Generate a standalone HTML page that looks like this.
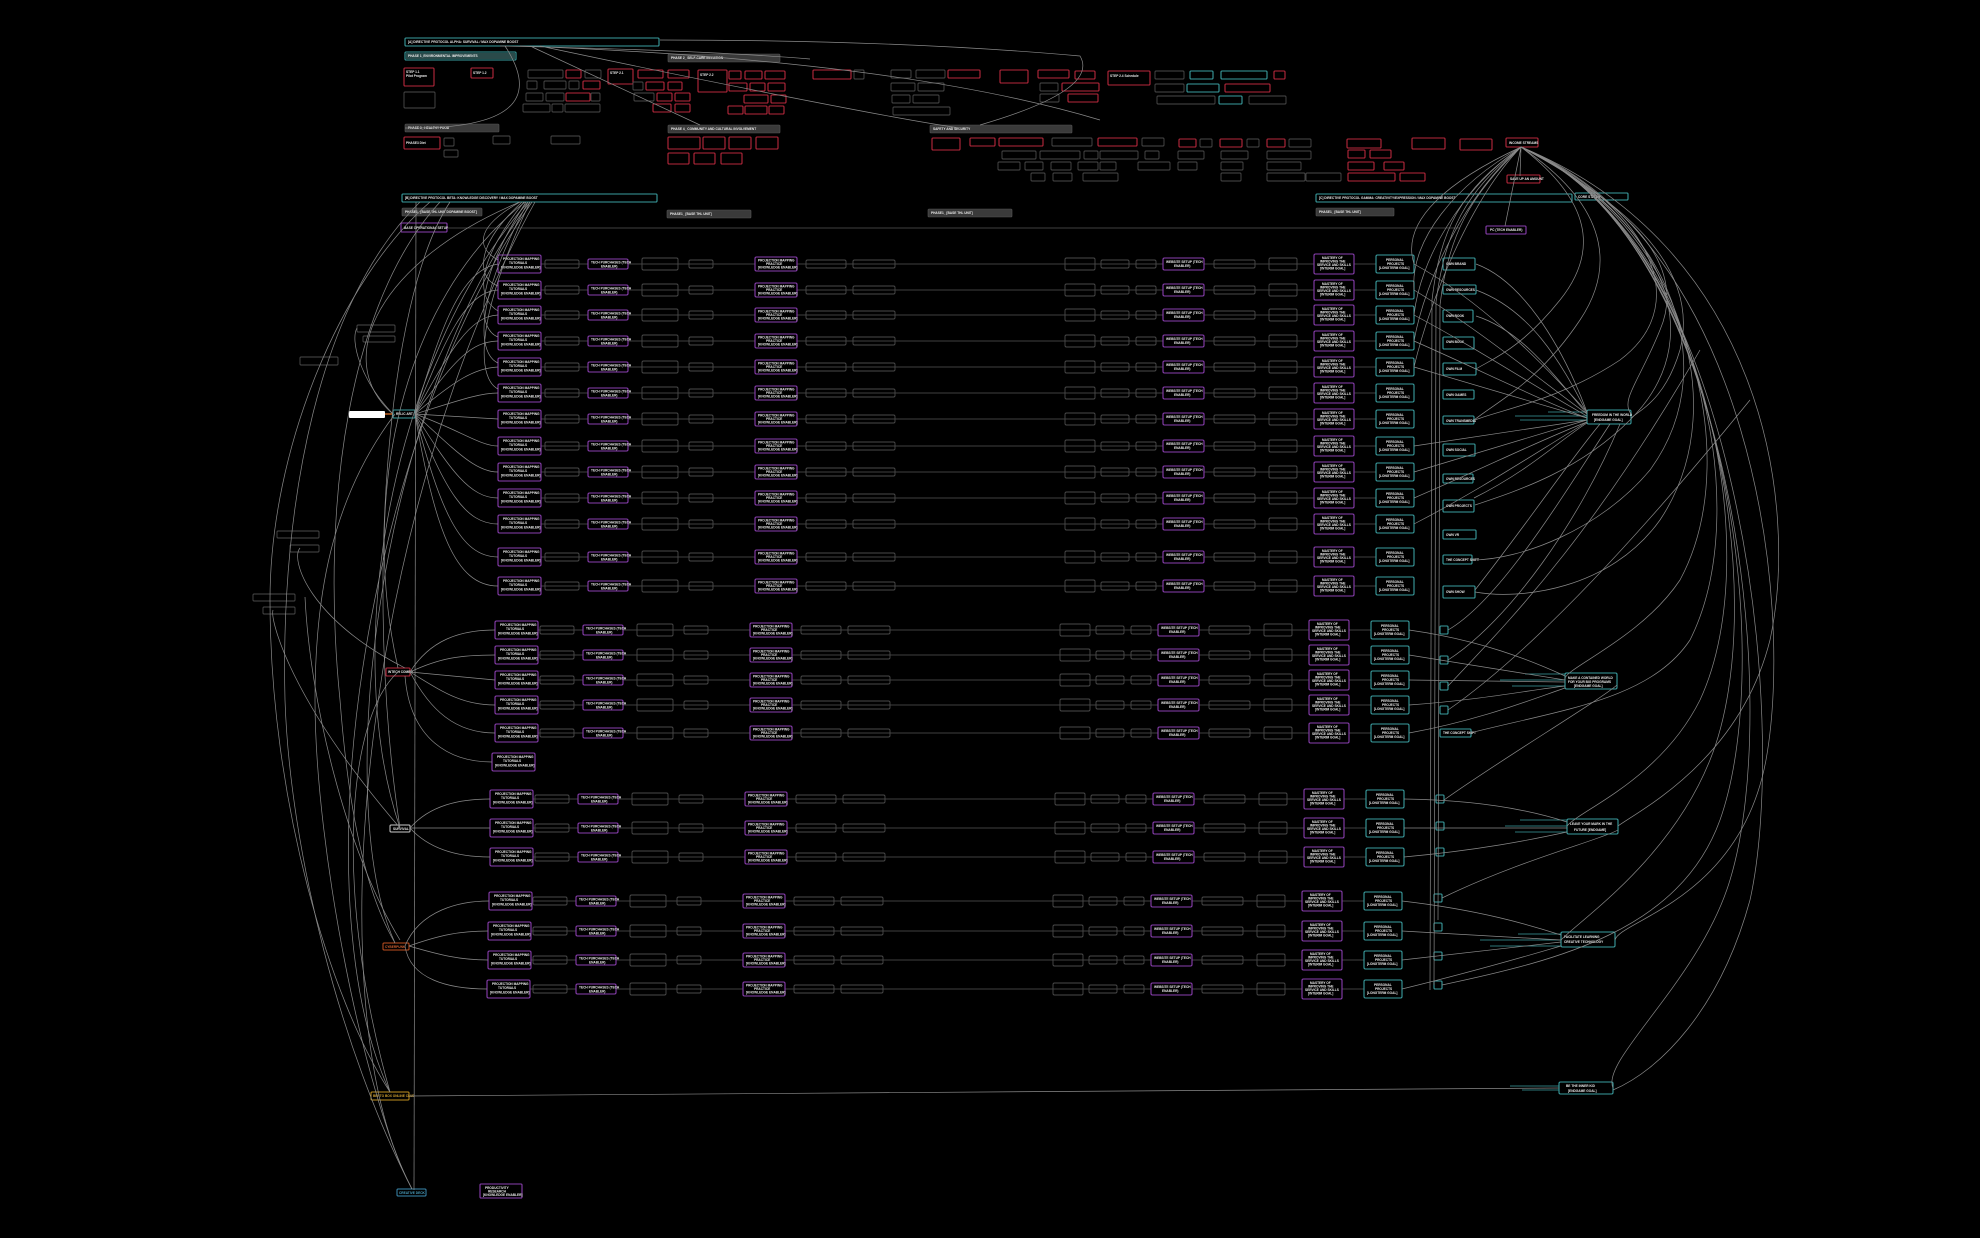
<!DOCTYPE html>
<html><head><meta charset="utf-8"><style>
html,body{margin:0;padding:0;background:#000;}
svg{display:block;}
text{font-family:"Liberation Sans",sans-serif;font-size:3.2px;font-weight:bold;fill:#e8e8e8;}
.g{fill:none;stroke:#4a4a4a;stroke-width:0.9;}
.p{fill:#000;stroke:#8a3fb0;stroke-width:1.1;}
.t{fill:#000;stroke:#3a9ea0;stroke-width:1.1;}
.r{fill:#000;stroke:#b8283c;stroke-width:1.1;}
.h{fill:#3a3a3a;stroke:#555;stroke-width:0.6;}
.l{fill:none;stroke:#8a8a8a;stroke-width:0.7;}
.ld{fill:none;stroke:#555;stroke-width:0.8;}
</style></head><body>
<svg width="1980" height="1238" viewBox="0 0 1980 1238" xmlns="http://www.w3.org/2000/svg">
<rect width="1980" height="1238" fill="#000"/>
<defs>
<g id="row">
<line x1="540" y1="0" x2="1376" y2="0" class="ld"/>
<rect x="545" y="-4" width="34" height="8" rx="1.5" class="g"/>
<rect x="588" y="-5" width="40" height="10" rx="1.5" class="p"/><text x="591" y="-0.5">TECH PURCHASES (TECH</text><text x="601" y="3.5">ENABLER)</text>
<rect x="642" y="-6" width="36" height="12" rx="1.5" class="g"/>
<rect x="689" y="-4" width="24" height="8" rx="1.5" class="g"/>
<rect x="755" y="-7" width="42" height="14" rx="1.5" class="p"/><text x="758" y="-2.5">PROJECTION MAPPING</text><text x="766" y="1">PRACTICE</text><text x="758" y="4.5">[KNOWLEDGE ENABLER]</text>
<rect x="806" y="-4" width="40" height="8" rx="1.5" class="g"/>
<rect x="853" y="-4" width="42" height="8" rx="1.5" class="g"/>
<rect x="1065" y="-6" width="30" height="12" rx="1.5" class="g"/>
<rect x="1101" y="-4" width="28" height="8" rx="1.5" class="g"/>
<rect x="1136" y="-4" width="20" height="8" rx="1.5" class="g"/>
<rect x="1163" y="-6" width="41" height="12" rx="1.5" class="p"/><text x="1166" y="-1">WEBSITE SETUP (TECH</text><text x="1174" y="3">ENABLER)</text>
<rect x="1214" y="-4" width="41" height="8" rx="1.5" class="g"/>
<rect x="1269" y="-6" width="28" height="12" rx="1.5" class="g"/>
<rect x="1314" y="-10" width="40" height="20" rx="1.5" class="p"/><text x="1322" y="-5">MASTERY OF</text><text x="1320" y="-1.5">IMPROVING THE</text><text x="1317" y="2">SERVICE AND SKILLS</text><text x="1320" y="5.5">[INTERIM GOAL]</text>
<rect x="1376" y="-9" width="38" height="18" rx="1.5" class="t"/><text x="1386" y="-3">PERSONAL</text><text x="1387" y="1">PROJECTS</text><text x="1379" y="5">[LONGTERM GOAL]</text>
</g>
<g id="c1"><rect x="0" y="-9" width="43" height="18" rx="1.5" class="p"/><text x="5" y="-4">PROJECTION MAPPING</text><text x="11" y="0">TUTORIALS</text><text x="3" y="4.5">[KNOWLEDGE ENABLER]</text></g>
</defs>

<!-- TOP HEADERS -->
<rect x="405" y="38" width="254" height="8" rx="1" class="t"/><text x="408" y="43">[A] DIRECTIVE PROTOCOL ALPHA: SURVIVAL / MAX DOPAMINE BOOST</text>
<rect x="405" y="52" width="111" height="8" rx="1" class="t"/><rect x="406" y="53" width="109" height="6" fill="#2a4a4a"/><text x="408" y="57">PHASE 1_ENVIRONMENTAL IMPROVEMENTS</text>
<rect x="668" y="54" width="112" height="8" rx="1" class="h"/><text x="671" y="59">PHASE 2_ SELF-CARE INITIATION</text>
<rect x="405" y="124" width="94" height="8" rx="1" class="h"/><text x="408" y="129">PHASE 3_ HEALTHY FOOD</text>
<rect x="668" y="125" width="112" height="8" rx="1" class="h"/><text x="671" y="130">PHASE 4_ COMMUNITY AND CULTURAL INVOLVEMENT</text>
<rect x="930" y="125" width="142" height="8" rx="1" class="h"/><text x="933" y="130">SAFETY AND SECURITY</text>
<rect x="402" y="194" width="255" height="8" rx="1" class="t"/><text x="405" y="199">[B] DIRECTIVE PROTOCOL BETA: KNOWLEDGE DISCOVERY / MAX DOPAMINE BOOST</text>
<rect x="402" y="208" width="80" height="8" rx="1" class="h"/><text x="405" y="213">PHASE1_ [BASE THL UNIT DOPAMINE BOOST]</text>
<rect x="667" y="210" width="84" height="8" rx="1" class="h"/><text x="670" y="215">PHASE1_ [BASE THL UNIT]</text>
<rect x="928" y="209" width="84" height="8" rx="1" class="h"/><text x="931" y="214">PHASE1_ [BASE THL UNIT]</text>
<rect x="1316" y="194" width="256" height="8" rx="1" class="t"/><text x="1319" y="199">[C] DIRECTIVE PROTOCOL GAMMA: CREATIVITY/EXPRESSION / MAX DOPAMINE BOOST</text>
<rect x="1316" y="208" width="78" height="8" rx="1" class="h"/><text x="1319" y="213">PHASE1_ [BASE THL UNIT]</text>
<rect x="1575" y="193" width="53" height="7" rx="1" class="t"/><text x="1578" y="198">CORE STATES</text>
<rect x="401" y="223" width="46" height="9" rx="1" class="p"/><text x="404" y="229">BASE OPERATIONAL SETUP</text>
<line x1="447" y1="228" x2="1460" y2="228" class="ld"/>

<!-- TOP SECTION BOXES -->
<g>
<rect x="404" y="68" width="30" height="18" rx="1" class="r"/><text x="406" y="73">STEP 1.1</text><text x="406" y="77">Pilot Program</text>
<rect x="404" y="92" width="31" height="16" rx="1" class="g"/>
<rect x="471" y="68" width="22" height="10" rx="1" class="r"/><text x="473" y="74">STEP 1.2</text>
<rect x="404" y="137" width="36" height="12" rx="1" class="r"/><text x="406" y="144">PHASE3 Diet</text>
<rect x="444" y="138" width="10" height="8" rx="1" class="g"/><rect x="444" y="150" width="14" height="7" rx="1" class="g"/>
<rect x="493" y="136" width="17" height="8" rx="1" class="g"/><rect x="551" y="136" width="29" height="8" rx="1" class="g"/>
<rect x="528" y="70" width="35" height="8" rx="1" class="g"/><rect x="566" y="70" width="15" height="8" rx="1" class="r"/><rect x="585" y="70" width="16" height="8" rx="1" class="g"/>
<rect x="527" y="81" width="10" height="8" rx="1" class="g"/><rect x="544" y="81" width="22" height="8" rx="1" class="g"/><rect x="569" y="81" width="10" height="8" rx="1" class="g"/><rect x="583" y="81" width="17" height="8" rx="1" class="r"/>
<rect x="526" y="93" width="17" height="8" rx="1" class="g"/><rect x="546" y="93" width="18" height="8" rx="1" class="g"/><rect x="566" y="93" width="24" height="8" rx="1" class="r"/><rect x="591" y="93" width="9" height="8" rx="1" class="g"/>
<rect x="523" y="104" width="27" height="8" rx="1" class="g"/><rect x="552" y="104" width="11" height="8" rx="1" class="g"/><rect x="565" y="104" width="35" height="8" rx="1" class="g"/>
<rect x="608" y="69" width="25" height="15" rx="1" class="r"/><text x="610" y="74">STEP 2.1</text>
<rect x="638" y="70" width="25" height="8" rx="1" class="r"/><rect x="668" y="70" width="21" height="8" rx="1" class="r"/>
<rect x="633" y="82" width="10" height="8" rx="1" class="g"/><rect x="646" y="82" width="18" height="8" rx="1" class="r"/><rect x="668" y="82" width="14" height="8" rx="1" class="r"/>
<rect x="634" y="93" width="20" height="8" rx="1" class="g"/><rect x="657" y="93" width="15" height="8" rx="1" class="r"/><rect x="675" y="93" width="15" height="8" rx="1" class="r"/>
<rect x="653" y="104" width="18" height="8" rx="1" class="r"/><rect x="675" y="104" width="15" height="8" rx="1" class="r"/>
<rect x="698" y="70" width="29" height="22" rx="1" class="r"/><text x="700" y="76">STEP 2.2</text>
<rect x="729" y="71" width="12" height="8" rx="1" class="r"/><rect x="745" y="71" width="17" height="8" rx="1" class="r"/><rect x="765" y="71" width="20" height="8" rx="1" class="r"/>
<rect x="729" y="83" width="18" height="8" rx="1" class="r"/><rect x="750" y="83" width="15" height="8" rx="1" class="r"/><rect x="768" y="83" width="17" height="8" rx="1" class="r"/>
<rect x="744" y="95" width="24" height="8" rx="1" class="r"/><rect x="771" y="95" width="15" height="8" rx="1" class="r"/>
<rect x="728" y="106" width="15" height="8" rx="1" class="r"/><rect x="745" y="106" width="22" height="8" rx="1" class="r"/><rect x="769" y="106" width="15" height="8" rx="1" class="r"/>
<rect x="813" y="70" width="38" height="9" rx="1" class="r"/><rect x="854" y="70" width="10" height="9" rx="1" class="g"/>
<rect x="891" y="70" width="20" height="8" rx="1" class="g"/><rect x="916" y="70" width="29" height="8" rx="1" class="g"/>
<rect x="891" y="83" width="24" height="8" rx="1" class="g"/><rect x="918" y="83" width="26" height="8" rx="1" class="g"/>
<rect x="892" y="95" width="18" height="8" rx="1" class="g"/><rect x="913" y="95" width="26" height="8" rx="1" class="g"/>
<rect x="893" y="107" width="57" height="8" rx="1" class="g"/>
<rect x="948" y="70" width="32" height="8" rx="1" class="r"/><rect x="1000" y="70" width="28" height="13" rx="1" class="r"/>
<rect x="1038" y="70" width="31" height="8" rx="1" class="r"/><rect x="1075" y="71" width="20" height="8" rx="1" class="r"/>
<rect x="1040" y="83" width="18" height="8" rx="1" class="g"/><rect x="1062" y="83" width="37" height="8" rx="1" class="r"/>
<rect x="1040" y="94" width="19" height="8" rx="1" class="g"/><rect x="1068" y="94" width="30" height="8" rx="1" class="r"/>
<rect x="1108" y="71" width="42" height="14" rx="1" class="r"/><text x="1110" y="77">STEP 2.4 Schedule</text>
<rect x="1155" y="71" width="29" height="8" rx="1" class="g"/><rect x="1190" y="71" width="23" height="8" rx="1" class="t"/><rect x="1221" y="71" width="46" height="8" rx="1" class="t"/><rect x="1274" y="71" width="11" height="8" rx="1" class="r"/>
<rect x="1155" y="84" width="29" height="8" rx="1" class="g"/><rect x="1187" y="84" width="32" height="8" rx="1" class="t"/><rect x="1225" y="84" width="45" height="8" rx="1" class="r"/>
<rect x="1157" y="96" width="58" height="8" rx="1" class="g"/><rect x="1219" y="96" width="23" height="8" rx="1" class="t"/><rect x="1249" y="96" width="37" height="8" rx="1" class="g"/>
<rect x="668" y="137" width="32" height="12" rx="1" class="r"/><rect x="703" y="137" width="22" height="12" rx="1" class="r"/><rect x="729" y="137" width="22" height="12" rx="1" class="r"/><rect x="756" y="137" width="22" height="12" rx="1" class="r"/>
<rect x="668" y="153" width="21" height="11" rx="1" class="r"/><rect x="694" y="153" width="21" height="11" rx="1" class="r"/><rect x="721" y="153" width="21" height="11" rx="1" class="r"/>
<rect x="932" y="138" width="28" height="12" rx="1" class="r"/><rect x="970" y="138" width="25" height="8" rx="1" class="r"/><rect x="999" y="138" width="44" height="8" rx="1" class="r"/>
<rect x="1052" y="138" width="40" height="8" rx="1" class="g"/><rect x="1098" y="138" width="39" height="8" rx="1" class="r"/><rect x="1142" y="138" width="22" height="8" rx="1" class="g"/>
<rect x="1179" y="139" width="17" height="8" rx="1" class="r"/><rect x="1200" y="139" width="12" height="8" rx="1" class="g"/><rect x="1220" y="139" width="22" height="8" rx="1" class="r"/><rect x="1247" y="139" width="12" height="8" rx="1" class="g"/><rect x="1267" y="139" width="18" height="8" rx="1" class="r"/><rect x="1289" y="139" width="22" height="8" rx="1" class="g"/>
<rect x="1347" y="139" width="34" height="9" rx="1" class="r"/><rect x="1412" y="138" width="33" height="11" rx="1" class="r"/><rect x="1460" y="139" width="32" height="11" rx="1" class="r"/>
<rect x="1506" y="138" width="32" height="9" rx="1" class="r"/><text x="1509" y="144">INCOME STREAMS</text>
<rect x="1507" y="175" width="33" height="8" rx="1" class="r"/><text x="1510" y="180">SAVE UP AN AMOUNT</text>
<rect x="1486" y="226" width="40" height="8" rx="1" class="p"/><text x="1490" y="231">PC (TECH ENABLER)</text>
<rect x="1002" y="151" width="34" height="8" rx="1" class="g"/><rect x="1040" y="151" width="40" height="8" rx="1" class="g"/><rect x="1084" y="151" width="14" height="8" rx="1" class="g"/><rect x="1100" y="151" width="38" height="8" rx="1" class="g"/><rect x="1145" y="151" width="14" height="8" rx="1" class="g"/><rect x="1178" y="151" width="26" height="8" rx="1" class="g"/><rect x="1221" y="151" width="27" height="8" rx="1" class="g"/><rect x="1267" y="151" width="44" height="8" rx="1" class="g"/>
<rect x="1348" y="150" width="17" height="8" rx="1" class="r"/><rect x="1370" y="150" width="21" height="8" rx="1" class="r"/>
<rect x="998" y="162" width="22" height="8" rx="1" class="g"/><rect x="1025" y="162" width="18" height="8" rx="1" class="g"/><rect x="1051" y="162" width="20" height="8" rx="1" class="g"/><rect x="1078" y="162" width="20" height="8" rx="1" class="g"/><rect x="1100" y="162" width="16" height="8" rx="1" class="g"/><rect x="1138" y="162" width="32" height="8" rx="1" class="g"/><rect x="1178" y="162" width="19" height="8" rx="1" class="g"/><rect x="1221" y="162" width="22" height="8" rx="1" class="g"/><rect x="1267" y="162" width="34" height="8" rx="1" class="g"/>
<rect x="1348" y="162" width="26" height="8" rx="1" class="r"/><rect x="1384" y="162" width="20" height="8" rx="1" class="r"/>
<rect x="1031" y="173" width="14" height="8" rx="1" class="g"/><rect x="1053" y="173" width="19" height="8" rx="1" class="g"/><rect x="1083" y="173" width="35" height="8" rx="1" class="g"/><rect x="1221" y="173" width="20" height="8" rx="1" class="g"/><rect x="1267" y="173" width="38" height="8" rx="1" class="g"/><rect x="1306" y="173" width="35" height="8" rx="1" class="g"/>
<rect x="1348" y="173" width="47" height="8" rx="1" class="r"/><rect x="1400" y="173" width="25" height="8" rx="1" class="r"/>
</g>

<!-- TOP CURVES -->
<path class="l" d="M500,46 Q700,50 810,59 M520,46 Q900,60 1100,120 M660,40 Q900,40 1080,56 Q1100,90 980,125 M530,46 Q560,60 700,125 M505,46 Q560,130 405,128 M540,46 C700,80 900,120 960,128"/>
<path class="l" d="M1521,147 L1520,176 M1521,147 L1505,226"/>

<!-- LEFT NODES -->
<rect x="349" y="411" width="36" height="7" rx="1" fill="#fff"/><line x1="385" y1="414" x2="393" y2="414" stroke="#c06020" stroke-width="1.5"/>
<rect x="393" y="410" width="22" height="8" rx="1" class="t"/><text x="396" y="415">RELIC ART</text>
<rect x="386" y="668" width="24" height="8" rx="1" class="r"/><text x="388" y="673">INTECH COMBO</text>
<rect x="390" y="825" width="20" height="7" rx="1" fill="#000" stroke="#ccc" stroke-width="1"/><text x="393" y="830">SURVIVAL</text>
<rect x="383" y="943" width="26" height="7" rx="1" fill="#000" stroke="#c05020" stroke-width="1"/><text x="385" y="948" style="fill:#d06030">CYBERPUNK</text>
<rect x="371" y="1092" width="38" height="8" rx="1" fill="#000" stroke="#c09020" stroke-width="1"/><text x="373" y="1097" style="fill:#d0a030">BENTO BOX ONLINE CLUB</text>
<rect x="397" y="1189" width="29" height="7" rx="1" fill="#000" stroke="#3a8ab0" stroke-width="1"/><text x="399" y="1194" style="fill:#4aa0c0">CREATIVE DECK</text>
<rect x="480" y="1184" width="42" height="14" rx="1" class="p"/><text x="485" y="1189">PRODUCTIVITY</text><text x="488" y="1192.5">RESEARCH</text><text x="483" y="1196">[KNOWLEDGE ENABLER]</text>
<line x1="416" y1="202" x2="414" y2="1190" class="l"/>
<line x1="409" y1="1096" x2="1560" y2="1088" class="l"/>
<rect x="357" y="325" width="38" height="7" rx="1" class="g"/><rect x="363" y="336" width="32" height="6" rx="1" class="g"/>
<rect x="300" y="357" width="38" height="8" rx="1" class="g"/>
<rect x="277" y="531" width="42" height="7" rx="1" class="g"/><rect x="290" y="545" width="29" height="7" rx="1" class="g"/>
<rect x="253" y="594" width="42" height="7" rx="1" class="g"/><rect x="263" y="607" width="32" height="7" rx="1" class="g"/>

<!-- ROWS GROUP 1 -->
<use href="#row" y="264"/><use href="#row" y="290"/><use href="#row" y="315"/><use href="#row" y="341"/><use href="#row" y="367"/><use href="#row" y="393"/><use href="#row" y="419"/><use href="#row" y="446"/><use href="#row" y="472"/><use href="#row" y="498"/><use href="#row" y="524"/><use href="#row" y="557"/><use href="#row" y="586"/>
<use href="#c1" x="498" y="264"/><use href="#c1" x="498" y="290"/><use href="#c1" x="498" y="315"/><use href="#c1" x="498" y="341"/><use href="#c1" x="498" y="367"/><use href="#c1" x="498" y="393"/><use href="#c1" x="498" y="419"/><use href="#c1" x="498" y="446"/><use href="#c1" x="498" y="472"/><use href="#c1" x="498" y="498"/><use href="#c1" x="498" y="524"/><use href="#c1" x="498" y="557"/><use href="#c1" x="498" y="586"/>
<g>
<rect x="1443" y="258" width="32" height="12" rx="1" class="t"/><rect x="1443" y="285" width="33" height="9" rx="1" class="t"/><rect x="1443" y="310" width="30" height="12" rx="1" class="t"/><rect x="1443" y="337" width="31" height="12" rx="1" class="t"/><rect x="1443" y="363" width="33" height="12" rx="1" class="t"/><rect x="1443" y="390" width="31" height="9" rx="1" class="t"/><rect x="1443" y="416" width="31" height="8" rx="1" class="t"/><rect x="1443" y="444" width="32" height="12" rx="1" class="t"/><rect x="1443" y="474" width="30" height="9" rx="1" class="t"/><rect x="1443" y="500" width="31" height="12" rx="1" class="t"/><rect x="1443" y="530" width="33" height="9" rx="1" class="t"/><rect x="1443" y="555" width="29" height="9" rx="1" class="t"/><rect x="1443" y="586" width="32" height="12" rx="1" class="t"/>
<text x="1446" y="265">OWN BRAND</text><text x="1446" y="291">OWN RESOURCES</text><text x="1446" y="317">OWN BOOK</text><text x="1446" y="343">OWN BOOK</text><text x="1446" y="370">OWN FILM</text><text x="1446" y="396">OWN GAMES</text><text x="1446" y="422">OWN TRANSMEDIA</text><text x="1446" y="451">OWN SOCIAL</text><text x="1446" y="480">OWN RESOURCES</text><text x="1446" y="507">OWN PROJECTS</text><text x="1446" y="536">OWN VR</text><text x="1446" y="561">THE CONCEPT SHIFT</text><text x="1446" y="593">OWN SHOW</text>
</g>
<!-- GROUP 2 -->
<use href="#row" x="-5" y="630"/><use href="#row" x="-5" y="655"/><use href="#row" x="-5" y="680"/><use href="#row" x="-5" y="705"/><use href="#row" x="-5" y="733"/>
<use href="#c1" x="495" y="630"/><use href="#c1" x="495" y="655"/><use href="#c1" x="495" y="680"/><use href="#c1" x="495" y="705"/><use href="#c1" x="495" y="733"/><use href="#c1" x="492" y="762"/>
<rect x="1440" y="626" width="8" height="8" rx="1" class="t"/><rect x="1440" y="656" width="8" height="8" rx="1" class="t"/><rect x="1440" y="682" width="8" height="8" rx="1" class="t"/><rect x="1440" y="706" width="8" height="8" rx="1" class="t"/><rect x="1440" y="729" width="31" height="8" rx="1" class="t"/><text x="1443" y="734">THE CONCEPT SHIFT</text>
<!-- GROUP 3 -->
<use href="#row" x="-10" y="799"/><use href="#row" x="-10" y="828"/><use href="#row" x="-10" y="857"/>
<use href="#c1" x="490" y="799"/><use href="#c1" x="490" y="828"/><use href="#c1" x="490" y="857"/>
<rect x="1436" y="795" width="8" height="8" rx="1" class="t"/><rect x="1436" y="822" width="8" height="8" rx="1" class="t"/><rect x="1436" y="848" width="8" height="8" rx="1" class="t"/>
<!-- GROUP 4 -->
<use href="#row" x="-12" y="901"/><use href="#row" x="-12" y="931"/><use href="#row" x="-12" y="960"/><use href="#row" x="-12" y="989"/>
<use href="#c1" x="489" y="901"/><use href="#c1" x="488" y="931"/><use href="#c1" x="488" y="960"/><use href="#c1" x="487" y="989"/>
<rect x="1434" y="894" width="8" height="8" rx="1" class="t"/><rect x="1434" y="923" width="8" height="8" rx="1" class="t"/><rect x="1434" y="952" width="8" height="8" rx="1" class="t"/><rect x="1434" y="981" width="8" height="8" rx="1" class="t"/>

<!-- GOALS -->
<rect x="1587" y="410" width="44" height="14" rx="1.5" class="t"/><text x="1592" y="416">FREEDOM IN THE WORLD</text><text x="1594" y="421">[ENDGAME GOAL]</text>
<rect x="1565" y="673" width="52" height="16" rx="1.5" class="t"/><text x="1568" y="679">MAKE A CONTAINED WORLD</text><text x="1568" y="683">FOR YOUR BIG PROGRAMS</text><text x="1574" y="687">[ENDGAME GOAL]</text>
<rect x="1567" y="819" width="51" height="15" rx="1.5" class="t"/><text x="1570" y="825">LEAVE YOUR MARK IN THE</text><text x="1574" y="831">FUTURE [ENDGAME]</text>
<rect x="1561" y="932" width="54" height="15" rx="1.5" class="t"/><text x="1564" y="938">FACILITATE LEARNING</text><text x="1564" y="943">CREATIVE TECHNOLOGY</text>
<rect x="1559" y="1082" width="54" height="12" rx="1.5" class="t"/><text x="1566" y="1087">BE THE INNER KID</text><text x="1568" y="1092">[ENDGAME GOAL]</text>
<g stroke="#3a9ea0" stroke-width="0.8">
<line x1="1548" y1="412" x2="1587" y2="412"/><line x1="1515" y1="416" x2="1587" y2="416"/><line x1="1520" y1="420" x2="1587" y2="420"/>
<line x1="1525" y1="674" x2="1565" y2="674"/><line x1="1500" y1="680" x2="1565" y2="680"/><line x1="1512" y1="686" x2="1565" y2="686"/>
<line x1="1520" y1="820" x2="1567" y2="820"/><line x1="1505" y1="826" x2="1567" y2="826"/><line x1="1515" y1="832" x2="1567" y2="832"/>
<line x1="1518" y1="934" x2="1561" y2="934"/><line x1="1480" y1="940" x2="1561" y2="940"/><line x1="1490" y1="946" x2="1561" y2="946"/>
<line x1="1510" y1="1086" x2="1559" y2="1086"/><line x1="1522" y1="1090" x2="1559" y2="1090"/>
</g>

<!-- LEFT FAN CURVES -->
<g class="l">
<path d="M415,414 C440,330 460,270 498,264"/><path d="M415,414 C445,340 465,292 498,290"/><path d="M415,414 C450,350 470,316 498,315"/><path d="M415,414 C455,360 470,342 498,341"/><path d="M415,414 C455,380 475,368 498,367"/><path d="M415,414 C460,400 480,393 498,393"/><path d="M415,414 L498,419"/><path d="M415,414 C460,430 480,446 498,446"/><path d="M415,414 C455,450 475,472 498,472"/><path d="M415,414 C450,470 470,498 498,498"/><path d="M415,414 C445,490 465,524 498,524"/><path d="M415,414 C440,510 460,557 498,557"/><path d="M415,414 C435,530 455,586 498,586"/>
<path d="M410,672 C430,640 460,630 495,630"/><path d="M410,672 C440,658 460,655 495,655"/><path d="M410,672 L495,680"/><path d="M410,672 C440,690 460,705 495,705"/><path d="M410,672 C430,710 455,733 495,733"/><path d="M405,676 C410,740 450,762 492,762"/>
<path d="M410,828 C430,805 460,799 490,799"/><path d="M410,828 L490,828"/><path d="M410,828 C430,850 460,857 490,857"/>
<path d="M405,946 C420,910 460,901 489,901"/><path d="M409,946 C440,935 460,931 488,931"/><path d="M409,946 C440,955 460,960 488,960"/><path d="M405,946 C410,980 450,989 487,989"/>
<path d="M520,202 C380,260 330,360 393,414"/><path d="M525,202 C400,300 360,500 398,668"/><path d="M528,202 C390,360 340,650 400,828"/><path d="M530,202 C380,400 330,800 395,943"/><path d="M532,202 C360,450 300,900 390,1092"/><path d="M535,202 C370,500 310,1000 412,1189"/>
<path d="M520,202 C470,230 480,250 498,260"/><path d="M522,202 C470,250 480,280 498,286"/><path d="M524,202 C470,270 480,300 498,311"/><path d="M526,202 C470,290 480,330 498,337"/><path d="M528,202 C470,310 480,355 498,363"/><path d="M530,202 C470,330 480,380 498,389"/>
<path d="M420,202 C320,300 280,500 285,700 C290,850 340,1050 412,1189"/><path d="M430,202 C340,280 270,450 270,600 C270,800 330,1000 390,1092"/>
<path d="M440,202 C350,300 320,500 340,700 C350,830 370,900 395,943"/><path d="M450,202 C385,300 365,600 400,828"/>
<path d="M395,414 C330,500 315,600 315,700 C315,850 365,1100 412,1189"/><path d="M398,672 C345,720 335,900 390,1092"/>
<path d="M393,414 C360,380 350,340 357,328"/><path d="M405,668 C310,620 290,560 300,548"/><path d="M400,828 C290,700 270,620 273,610"/>
<path d="M400,940 C345,850 310,700 305,597"/>
</g>

<!-- RIGHT BUNDLE & ARCS -->
<g class="l">
<path d="M1521,147 C1460,190 1440,230 1432,300 L1430,990"/><path d="M1521,147 C1465,192 1445,232 1436,302 L1434,985"/><path d="M1521,147 C1470,195 1448,236 1440,305 L1438,920"/>
<path d="M1521,147 C1450,180 1400,220 1414,264"/><path d="M1521,147 C1455,185 1410,240 1414,290"/><path d="M1521,147 C1460,190 1420,260 1414,315"/><path d="M1521,147 C1465,195 1425,280 1414,341"/><path d="M1521,147 C1470,200 1430,300 1414,367"/>
<path d="M1521,147 C1640,200 1700,300 1620,360 C1560,400 1500,410 1475,420"/>
<path d="M1521,147 C1650,210 1720,330 1630,420 C1580,470 1520,490 1475,505"/>
<path d="M1521,147 C1660,210 1730,360 1650,470 C1600,530 1520,560 1472,560"/>
<path d="M1521,147 C1670,215 1740,400 1660,520 C1610,590 1520,600 1475,592"/>
<path d="M1521,147 C1680,220 1750,450 1680,580 C1640,640 1560,670 1565,680"/>
<path d="M1521,147 C1690,222 1760,500 1690,640 C1650,700 1560,710 1470,733"/>
<path d="M1521,147 C1700,225 1770,550 1700,700 C1660,780 1580,810 1567,826"/>
<path d="M1521,147 C1710,228 1775,600 1710,760 C1670,860 1580,920 1561,940"/>
<path d="M1521,147 C1720,230 1780,650 1720,820 C1680,930 1560,960 1442,985"/>
<path d="M1521,147 C1730,232 1785,700 1730,880 C1700,980 1600,1060 1613,1088"/>
<path d="M1521,147 C1740,235 1790,720 1750,900 C1720,1010 1660,1070 1613,1090"/>
<path d="M1521,147 C1750,240 1795,600 1766,760 C1740,900 1620,920 1615,940"/>
<path d="M1521,147 C1760,245 1800,500 1770,640 C1740,760 1640,810 1618,826"/>
<path d="M1521,147 C1620,200 1690,260 1660,330 C1640,380 1620,400 1631,414"/>
<path d="M1521,147 C1630,205 1700,270 1680,350 C1665,400 1640,410 1631,418"/>
<path d="M1521,147 C1600,200 1620,260 1580,320 C1540,380 1500,400 1474,420"/>
<path d="M1521,147 C1590,200 1600,250 1560,300 C1520,350 1490,360 1476,369"/>
<path d="M1414,264 C1480,300 1540,360 1587,412"/><path d="M1414,290 C1480,330 1540,380 1587,414"/><path d="M1414,315 C1480,350 1540,390 1587,416"/><path d="M1414,341 C1480,370 1540,400 1587,418"/><path d="M1414,367 L1587,418"/><path d="M1414,446 L1587,420"/><path d="M1414,472 L1587,420"/><path d="M1414,498 C1480,470 1540,440 1587,422"/><path d="M1414,524 C1480,490 1540,450 1587,422"/>
<path d="M1476,264 C1520,280 1560,340 1587,412"/><path d="M1476,290 C1530,310 1560,360 1587,413"/><path d="M1476,316 C1520,330 1550,370 1587,414"/><path d="M1474,498 C1530,470 1560,440 1587,423"/><path d="M1475,590 C1530,520 1570,460 1600,424"/>
<path d="M1409,630 C1480,640 1530,660 1565,676"/><path d="M1409,655 L1565,680"/><path d="M1409,680 L1565,682"/><path d="M1409,705 C1480,700 1530,690 1565,686"/><path d="M1409,733 C1480,720 1530,700 1565,688"/>
<path d="M1448,630 C1500,600 1560,500 1610,424"/><path d="M1448,660 C1510,620 1580,520 1620,424"/><path d="M1448,686 C1510,620 1590,540 1700,350"/><path d="M1448,710 C1520,660 1620,560 1750,400"/>
<path d="M1404,799 C1480,800 1530,810 1567,822"/><path d="M1404,828 L1567,828"/><path d="M1404,857 C1480,850 1530,840 1567,832"/>
<path d="M1402,901 C1480,910 1530,925 1561,935"/><path d="M1402,931 L1561,940"/><path d="M1402,960 L1561,942"/><path d="M1402,989 C1480,970 1530,955 1561,946"/>
<path d="M1444,800 C1500,760 1600,700 1617,685"/><path d="M1442,898 C1520,860 1600,840 1618,830"/>
</g>
</svg>
</body></html>
